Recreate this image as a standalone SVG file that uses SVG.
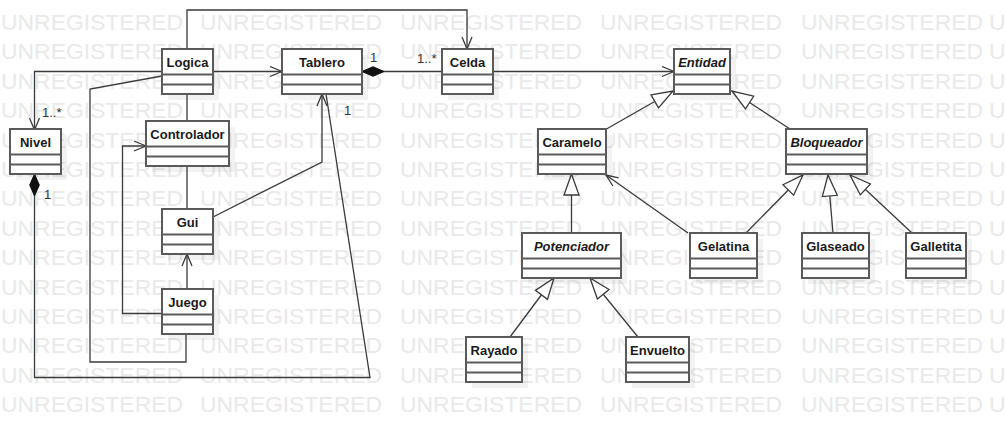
<svg xmlns="http://www.w3.org/2000/svg" xmlns:xlink="http://www.w3.org/1999/xlink" width="1006" height="422" viewBox="0 0 1006 422">
<style>
.wm{font-family:"Liberation Sans",Arial,sans-serif;font-size:22px;fill:#e9e9e9}
.box{fill:#fff;stroke:#5a5a5a;stroke-width:2}
.sh{fill:#000;fill-opacity:0.05}
.div{stroke:#5a5a5a;stroke-width:2}
.nm{font-family:"Liberation Sans",Arial,sans-serif;font-size:13px;font-weight:bold;fill:#1a1a1a;text-anchor:middle}
.it{font-style:italic}
.ln{fill:none;stroke:#3a3a3a;stroke-width:1.3}
.lb{font-family:"Liberation Sans",Arial,sans-serif;font-size:13px;fill:#333}
</style>
<defs>
<g id="wmrow">
<text class="wm" x="1" textLength="182" lengthAdjust="spacingAndGlyphs">UNREGISTERED</text>
<text class="wm" x="200" textLength="182" lengthAdjust="spacingAndGlyphs">UNREGISTERED</text>
<text class="wm" x="400" textLength="182" lengthAdjust="spacingAndGlyphs">UNREGISTERED</text>
<text class="wm" x="600" textLength="182" lengthAdjust="spacingAndGlyphs">UNREGISTERED</text>
<text class="wm" x="801" textLength="182" lengthAdjust="spacingAndGlyphs">UNREGISTERED</text>
<text class="wm" x="989" textLength="182" lengthAdjust="spacingAndGlyphs">UNREGISTERED</text>
</g>
<marker id="open" viewBox="0 0 14 12" refX="13" refY="6" markerWidth="14" markerHeight="12" orient="auto" markerUnits="userSpaceOnUse">
<path d="M1,1 L13,6 L1,11" fill="none" stroke="#3a3a3a" stroke-width="1.3"/>
</marker>
<marker id="tri" viewBox="0 0 23 18" refX="22" refY="9" markerWidth="23" markerHeight="18" orient="auto" markerUnits="userSpaceOnUse">
<path d="M1,1.5 L22,9 L1,16.5 Z" fill="#fff" stroke="#3a3a3a" stroke-width="1.3"/>
</marker>
<marker id="dia" viewBox="0 0 23 12" refX="0.5" refY="6" markerWidth="23" markerHeight="12" orient="auto" markerUnits="userSpaceOnUse">
<path d="M0.5,6 L11.5,1.2 L22.5,6 L11.5,10.8 Z" fill="#111" stroke="#111" stroke-width="1"/>
</marker>
</defs>
<rect width="1006" height="422" fill="#fff"/>
<g id="watermark">
<use xlink:href="#wmrow" y="30"/>
<use xlink:href="#wmrow" y="59.4"/>
<use xlink:href="#wmrow" y="88.8"/>
<use xlink:href="#wmrow" y="118.2"/>
<use xlink:href="#wmrow" y="147.6"/>
<use xlink:href="#wmrow" y="177"/>
<use xlink:href="#wmrow" y="206.4"/>
<use xlink:href="#wmrow" y="235.8"/>
<use xlink:href="#wmrow" y="265.2"/>
<use xlink:href="#wmrow" y="294.6"/>
<use xlink:href="#wmrow" y="324"/>
<use xlink:href="#wmrow" y="353.4"/>
<use xlink:href="#wmrow" y="382.8"/>
<use xlink:href="#wmrow" y="412.2"/>
</g>
<g id="connectors">
<path class="ln" d="M187,49 V10 H467 V49" marker-end="url(#open)"/>
<path class="ln" d="M213,71.5 H282" marker-end="url(#open)"/>
<path class="ln" d="M162,71.5 H34.5 V130" marker-end="url(#open)"/>
<path class="ln" d="M162,76 L90,89 V362 H186 V334"/>
<path class="ln" d="M187,94 V121"/>
<path class="ln" d="M187,166 V209"/>
<path class="ln" d="M162,313.5 H122.5 V146 H146" marker-end="url(#open)"/>
<path class="ln" d="M187,289 V254" marker-end="url(#open)"/>
<path class="ln" d="M213,217 L322,162 V94" marker-end="url(#open)"/>
<path class="ln" d="M34.5,174 V377.5 H370 L326,94" marker-start="url(#dia)"/>
<path class="ln" d="M362,71.5 H442" marker-start="url(#dia)"/>
<path class="ln" d="M493,71.5 H674" marker-end="url(#open)"/>
<path class="ln" d="M606.5,129 L673,91" marker-end="url(#tri)"/>
<path class="ln" d="M790,129 L732,91" marker-end="url(#tri)"/>
<path class="ln" d="M571.5,233 V174" marker-end="url(#tri)"/>
<path class="ln" d="M688,233 L606,175" marker-end="url(#open)"/>
<path class="ln" d="M746,233 L803,175" marker-end="url(#tri)"/>
<path class="ln" d="M833,233 L828,175" marker-end="url(#tri)"/>
<path class="ln" d="M912,233 L850,175" marker-end="url(#tri)"/>
<path class="ln" d="M510,337 L554,278" marker-end="url(#tri)"/>
<path class="ln" d="M638,337 L590,278" marker-end="url(#tri)"/>
<text class="lb" x="42" y="117">1..*</text>
<text class="lb" x="44" y="199">1</text>
<text class="lb" x="370" y="62">1</text>
<text class="lb" x="417" y="63">1..*</text>
<text class="lb" x="344" y="115">1</text>
</g>
<g id="Logica"><rect class="sh" x="168" y="55" width="51" height="45"/><rect class="box" x="162" y="49" width="51" height="45"/><path class="div" d="M162,74.5 H213 M162,84.5 H213"/><text class="nm" x="187.5" y="67">Logica</text></g>
<g id="Nivel"><rect class="sh" x="16" y="135" width="51" height="45"/><rect class="box" x="10" y="129" width="51" height="45"/><path class="div" d="M10,154.5 H61 M10,164.5 H61"/><text class="nm" x="35.5" y="147">Nivel</text></g>
<g id="Controlador"><rect class="sh" x="152" y="127" width="83" height="45"/><rect class="box" x="146" y="121" width="83" height="45"/><path class="div" d="M146,146.5 H229 M146,156.5 H229"/><text class="nm" x="187.5" y="139">Controlador</text></g>
<g id="Gui"><rect class="sh" x="168" y="215" width="51" height="45"/><rect class="box" x="162" y="209" width="51" height="45"/><path class="div" d="M162,234.5 H213 M162,244.5 H213"/><text class="nm" x="187.5" y="227">Gui</text></g>
<g id="Juego"><rect class="sh" x="168" y="295" width="51" height="45"/><rect class="box" x="162" y="289" width="51" height="45"/><path class="div" d="M162,314.5 H213 M162,324.5 H213"/><text class="nm" x="187.5" y="307">Juego</text></g>
<g id="Tablero"><rect class="sh" x="288" y="55" width="80" height="45"/><rect class="box" x="282" y="49" width="80" height="45"/><path class="div" d="M282,74.5 H362 M282,84.5 H362"/><text class="nm" x="322" y="67">Tablero</text></g>
<g id="Celda"><rect class="sh" x="448" y="55" width="51" height="45"/><rect class="box" x="442" y="49" width="51" height="45"/><path class="div" d="M442,74.5 H493 M442,84.5 H493"/><text class="nm" x="467.5" y="67">Celda</text></g>
<g id="Entidad"><rect class="sh" x="680" y="55" width="56" height="45"/><rect class="box" x="674" y="49" width="56" height="45"/><path class="div" d="M674,74.5 H730 M674,84.5 H730"/><text class="nm it" x="702" y="67">Entidad</text></g>
<g id="Caramelo"><rect class="sh" x="544" y="135" width="68" height="45"/><rect class="box" x="538" y="129" width="68" height="45"/><path class="div" d="M538,154.5 H606 M538,164.5 H606"/><text class="nm" x="572" y="147">Caramelo</text></g>
<g id="Bloqueador"><rect class="sh" x="792" y="135" width="81" height="45"/><rect class="box" x="786" y="129" width="81" height="45"/><path class="div" d="M786,154.5 H867 M786,164.5 H867"/><text class="nm it" x="826.5" y="147">Bloqueador</text></g>
<g id="Potenciador"><rect class="sh" x="528" y="239" width="99" height="45"/><rect class="box" x="522" y="233" width="99" height="45"/><path class="div" d="M522,258.5 H621 M522,268.5 H621"/><text class="nm it" x="571.5" y="251">Potenciador</text></g>
<g id="Gelatina"><rect class="sh" x="696" y="239" width="67" height="45"/><rect class="box" x="690" y="233" width="67" height="45"/><path class="div" d="M690,258.5 H757 M690,268.5 H757"/><text class="nm" x="723.5" y="251">Gelatina</text></g>
<g id="Glaseado"><rect class="sh" x="808" y="239" width="67" height="45"/><rect class="box" x="802" y="233" width="67" height="45"/><path class="div" d="M802,258.5 H869 M802,268.5 H869"/><text class="nm" x="835.5" y="251">Glaseado</text></g>
<g id="Galletita"><rect class="sh" x="912" y="239" width="60" height="45"/><rect class="box" x="906" y="233" width="60" height="45"/><path class="div" d="M906,258.5 H966 M906,268.5 H966"/><text class="nm" x="936" y="251">Galletita</text></g>
<g id="Rayado"><rect class="sh" x="472" y="343" width="56" height="45"/><rect class="box" x="466" y="337" width="56" height="45"/><path class="div" d="M466,362.5 H522 M466,372.5 H522"/><text class="nm" x="494" y="355">Rayado</text></g>
<g id="Envuelto"><rect class="sh" x="632" y="343" width="63" height="45"/><rect class="box" x="626" y="337" width="63" height="45"/><path class="div" d="M626,362.5 H689 M626,372.5 H689"/><text class="nm" x="657.5" y="355">Envuelto</text></g>
</svg>
